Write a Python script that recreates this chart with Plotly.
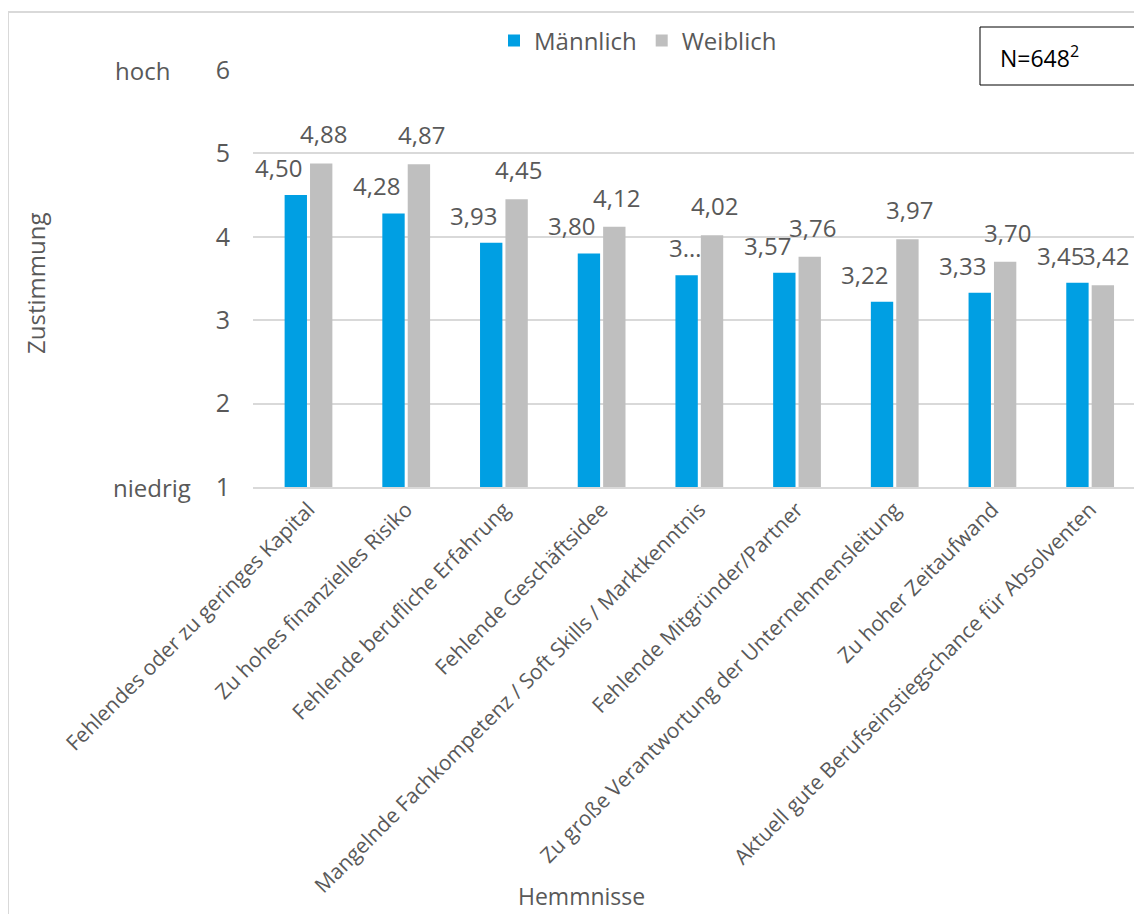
import plotly.graph_objects as go

categories = [
    "Fehlendes oder zu geringes Kapital",
    "Zu hohes finanzielles Risiko",
    "Fehlende berufliche Erfahrung",
    "Fehlende Geschäftsidee",
    "Mangelnde Fachkompetenz / Soft Skills / Marktkenntnis",
    "Fehlende Mitgründer/Partner",
    "Zu große Verantwortung der Unternehmensleitung",
    "Zu hoher Zeitaufwand",
    "Aktuell gute Berufseinstiegschance für Absolventen",
]
maennlich = [4.50, 4.28, 3.93, 3.80, 3.54, 3.57, 3.22, 3.33, 3.45]
weiblich = [4.88, 4.87, 4.45, 4.12, 4.02, 3.76, 3.97, 3.70, 3.42]
truncated_male_label_index = 4  # label shown as "3…" in the original

y_ticks = [1, 2, 3, 4, 5, 6]

BLUE = "#009FE3"
GRAY = "#BFBFBF"
TXT = "#595959"
FONT = "Open Sans"

OFF = 8  # page body margin
W, H = 1134, 906
# plot area in page pixels: x 253..1139, y 70..487
L = 253 - OFF
R = W - (1139 - OFF)
T = 70 - OFF
B = H - (487 - OFF)
PW = W - L - R
PH = H - T - B


def px_x(p):
    return (p - OFF - L) / PW


def px_y(p):
    return (H - B - (p - OFF)) / PH


def fmt(v):
    return f"{v:.2f}".replace(".", ",")


fig = go.Figure()
fig.add_trace(go.Bar(name="Männlich", x=categories, y=maennlich,
                     marker=dict(color=BLUE, line=dict(width=0))))
fig.add_trace(go.Bar(name="Weiblich", x=categories, y=weiblich,
                     marker=dict(color=GRAY, line=dict(width=0))))

annotations = []
for i, (c, m, w) in enumerate(zip(categories, maennlich, weiblich)):
    trunc = i == truncated_male_label_index
    mlab = "3…" if trunc else fmt(m)
    annotations.append(dict(x=c, y=m, xref="x", yref="y", text=mlab,
                            showarrow=False, xanchor="center", yanchor="bottom",
                            xshift=-14 if trunc else -30, yshift=9,
                            font=dict(family=FONT, size=24, color=TXT)))
    annotations.append(dict(x=c, y=w, xref="x", yref="y", text=fmt(w),
                            showarrow=False, xanchor="center", yanchor="bottom",
                            xshift=15, yshift=11,
                            font=dict(family=FONT, size=24, color=TXT)))

annotations += [
    dict(x=px_x(142), y=6, xref="paper", yref="y", text="hoch", showarrow=False,
         xanchor="center", yanchor="middle",
         font=dict(family=FONT, size=24, color=TXT)),
    dict(x=px_x(152), y=1, xref="paper", yref="y", text="niedrig", showarrow=False,
         xanchor="center", yanchor="middle",
         font=dict(family=FONT, size=24, color=TXT)),
    dict(x=px_x(35), y=px_y(284), xref="paper", yref="paper", text="Zustimmung",
         textangle=-90, showarrow=False, xanchor="center", yanchor="middle",
         font=dict(family=FONT, size=24, color=TXT)),
    dict(x=px_x(581), y=px_y(896), xref="paper", yref="paper", text="Hemmnisse",
         showarrow=False, xanchor="center", yanchor="middle",
         font=dict(family=FONT, size=23, color=TXT)),
    dict(x=px_x(998), y=px_y(57), xref="paper", yref="paper",
         xanchor="left", yanchor="middle",
         text="N=648<sup>2</sup>", showarrow=False,
         font=dict(family=FONT, size=23, color="#000000")),
]

shapes = [
    dict(type="rect", xref="paper", yref="paper",
         x0=px_x(8), x1=px_x(1160), y0=px_y(960), y1=px_y(12),
         line=dict(color="#D9D9D9", width=2), layer="below"),
    dict(type="rect", xref="paper", yref="paper",
         x0=px_x(980), x1=px_x(1137), y0=px_y(85), y1=px_y(27),
         line=dict(color="#000000", width=1), fillcolor="white"),
]

fig.update_layout(
    width=W, height=H,
    margin=dict(l=L, r=R, t=T, b=B),
    paper_bgcolor="white", plot_bgcolor="white",
    barmode="group", bargap=0.48, bargroupgap=0.12,
    font=dict(family=FONT, color=TXT),
    legend=dict(orientation="h", x=px_x(638), xanchor="center",
                y=px_y(41), yanchor="middle",
                font=dict(family=FONT, size=24, color=TXT),
                itemwidth=30, tracegroupgap=0, traceorder="normal"),
    annotations=annotations,
    shapes=shapes,
    xaxis=dict(tickangle=-45, tickfont=dict(family=FONT, size=21, color=TXT),
               showgrid=False, showline=True, linecolor="#D9D9D9", linewidth=2,
               ticks="", automargin=False),
    yaxis=dict(range=[1, 6], tickvals=y_ticks, ticktext=[str(t) for t in y_ticks],
               tickfont=dict(family=FONT, size=25, color=TXT),
               showgrid=True, gridcolor="#D9D9D9", gridwidth=2,
               zeroline=False, showline=False, ticks="", ticklabelstandoff=22,
               automargin=False),
)

fig.write_html("out.html")
